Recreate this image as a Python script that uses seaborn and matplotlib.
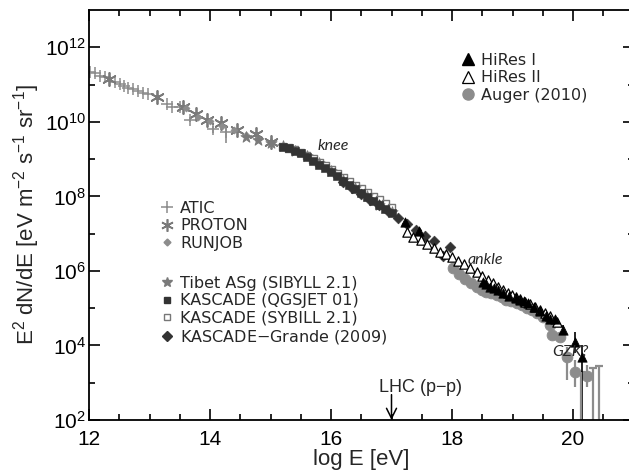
import numpy as np
import pandas as pd
import matplotlib
matplotlib.use('Agg')
import matplotlib.pyplot as plt
import matplotlib.ticker as mticker
from matplotlib.lines import Line2D
import seaborn as sns

# log10(E / eV) and log10(E^2 dN/dE)
atic_logE = [12.02, 12.10, 12.19, 12.27, 12.43, 12.51, 12.58, 12.65, 12.73, 12.81, 12.89, 12.98, 13.29, 13.38, 13.50, 13.67, 14.05, 14.27]
atic_logF = [11.34, 11.30, 11.24, 11.19, 11.07, 11.01, 10.96, 10.92, 10.87, 10.82, 10.78, 10.74, 10.48, 10.41, 10.39, 10.06, 9.80, 9.74]
atic_err_up = [0, 0, 0, 0, 0, 0, 0, 0, 0, 0, 0, 0, 0, 0, 0, 0.06, 0.08, 0.14]
atic_err_dn = [0, 0, 0, 0, 0, 0, 0, 0, 0, 0, 0, 0, 0, 0, 0, 0.06, 0.10, 0.32]

proton_logE = [12.33, 13.12, 13.55, 13.77, 13.95, 14.18, 14.45, 14.76, 15.01]
proton_logF = [11.15, 10.66, 10.40, 10.22, 10.06, 9.98, 9.78, 9.66, 9.45]

runjob_logE = [13.60, 13.80, 14.00, 14.20, 14.40, 14.60, 14.80]
runjob_logF = [10.36, 10.14, 10.03, 9.90, 9.78, 9.64, 9.55]

tibet_logE = [14.6, 14.8, 15.0, 15.2, 15.4, 15.6, 15.8, 16.0, 16.2, 16.4, 16.6, 16.8, 17.0]
tibet_logF = [9.60, 9.52, 9.43, 9.34, 9.22, 9.07, 8.90, 8.68, 8.45, 8.22, 8.00, 7.78, 7.57]

kasq_logE = [15.2, 15.3, 15.4, 15.5, 15.6, 15.7, 15.8, 15.9, 16.0, 16.1, 16.2, 16.3, 16.4, 16.5, 16.6, 16.7, 16.8, 16.9, 17.0]
kasq_logF = [9.33, 9.29, 9.23, 9.15, 9.05, 8.95, 8.85, 8.76, 8.65, 8.54, 8.42, 8.30, 8.19, 8.08, 7.98, 7.87, 7.77, 7.66, 7.55]

kass_logE = [15.2, 15.3, 15.4, 15.5, 15.6, 15.7, 15.8, 15.9, 16.0, 16.1, 16.2, 16.3, 16.4, 16.5, 16.6, 16.7, 16.8, 16.9, 17.0]
kass_logF = [9.34, 9.30, 9.25, 9.18, 9.09, 9.00, 8.91, 8.82, 8.72, 8.62, 8.51, 8.40, 8.30, 8.20, 8.10, 8.00, 7.90, 7.80, 7.70]

grande_logE = [16.20, 16.35, 16.50, 16.65, 16.80, 16.95, 17.10, 17.25, 17.40, 17.55, 17.70, 17.85, 17.97]
grande_logF = [8.38, 8.22, 8.06, 7.91, 7.76, 7.60, 7.43, 7.27, 7.10, 6.93, 6.80, 6.40, 6.64]

hires1_logE = [17.22, 17.45, 18.51, 18.57, 18.63, 18.70, 18.76, 18.85, 18.95, 19.05, 19.12, 19.19, 19.26, 19.35, 19.45, 19.55, 19.62, 19.70, 19.83, 20.03, 20.15]
hires1_logF = [7.32, 7.08, 5.70, 5.64, 5.58, 5.53, 5.48, 5.40, 5.33, 5.26, 5.22, 5.18, 5.13, 5.03, 4.93, 4.80, 4.70, 4.70, 4.42, 4.10, 3.70]
hires1_err_up = [0, 0, 0, 0, 0, 0, 0, 0, 0, 0, 0, 0, 0, 0, 0, 0, 0, 0, 0.12, 0.27, 0.30]
hires1_err_dn = [0, 0, 0, 0, 0, 0, 0, 0, 0, 0, 0, 0, 0, 0, 0, 0, 0, 0, 0.12, 0.30, 1.90]

hires2_logE = [17.25, 17.36, 17.48, 17.59, 17.70, 17.80, 17.90, 18.00, 18.10, 18.20, 18.30, 18.41, 18.50, 18.60, 18.68, 18.76, 18.84, 18.92, 18.99, 19.06, 19.12, 19.20, 19.29, 19.37, 19.45, 19.53, 19.62, 19.74]
hires2_logF = [7.05, 6.90, 6.82, 6.73, 6.62, 6.52, 6.45, 6.36, 6.27, 6.18, 6.08, 5.98, 5.86, 5.76, 5.68, 5.58, 5.50, 5.42, 5.36, 5.30, 5.24, 5.17, 5.10, 5.03, 4.96, 4.87, 4.78, 4.63]

auger_logE = [18.02, 18.12, 18.21, 18.31, 18.41, 18.50, 18.57, 18.65, 18.74, 18.82, 18.90, 18.98, 19.07, 19.15, 19.24, 19.32, 19.40, 19.50, 19.62, 19.65, 19.79, 19.90, 20.03, 20.23]
auger_logF = [6.09, 5.93, 5.79, 5.68, 5.58, 5.50, 5.44, 5.40, 5.36, 5.30, 5.23, 5.19, 5.14, 5.08, 5.01, 4.95, 4.88, 4.76, 4.55, 4.28, 4.23, 3.69, 3.29, 3.18]
auger_err_up = [0, 0, 0, 0, 0, 0, 0, 0, 0, 0, 0, 0, 0, 0, 0, 0, 0, 0, 0, 0, 0, 0.27, 0.32, 0.30]
auger_err_dn = [0, 0, 0, 0, 0, 0, 0, 0, 0, 0, 0, 0, 0, 0, 0, 0, 0, 0, 0, 0, 0, 0.61, 0.40, 0.30]

# bars reaching below the axis (no point drawn)
limit_logE = [20.13, 20.33, 20.43]
limit_logF = [3.29, 3.40, 3.45]

lhc_logE = 17.0

sns.set_style('ticks')
plt.rcParams['font.family'] = ['Liberation Sans', 'DejaVu Sans']
plt.rcParams['mathtext.fontset'] = 'custom'
plt.rcParams['mathtext.rm'] = 'Liberation Sans'
plt.rcParams['mathtext.default'] = 'regular'

fig = plt.figure(figsize=(6.29, 4.73), dpi=100)
ax = fig.add_axes([89 / 629, 1 - 420 / 473, 544.5 / 629, 410 / 473])

def flux(v):
    return np.power(10.0, np.asarray(v, dtype=float))

def errs(logF, up, dn):
    f = flux(logF)
    return [f - f / flux(dn), f * flux(up) - f]

gray = '#8c8c8c'
mid = '#7a7a7a'
dark = '#333333'

# error bars first, behind the markers
ax.errorbar(atic_logE, flux(atic_logF), yerr=errs(atic_logF, atic_err_up, atic_err_dn),
            fmt='none', ecolor=gray, elinewidth=1.2)
ax.errorbar(auger_logE, flux(auger_logF), yerr=errs(auger_logF, auger_err_up, auger_err_dn),
            fmt='none', ecolor=gray, elinewidth=1.6)
ax.errorbar(hires1_logE, flux(hires1_logF), yerr=errs(hires1_logF, hires1_err_up, hires1_err_dn),
            fmt='none', ecolor='black', elinewidth=1.2)
ax.vlines(limit_logE, 50, flux(limit_logF), color=gray, lw=1.6)
sns.scatterplot(x=limit_logE, y=flux(limit_logF), marker='_', s=40, color=gray, linewidth=1.6, ax=ax)

asterisk = (6, 2, 0)
sns.scatterplot(x=atic_logE, y=flux(atic_logF), marker='+', s=70, color=gray, linewidth=1.1, ax=ax)
sns.scatterplot(x=proton_logE, y=flux(proton_logF), marker=asterisk, s=90, color=mid, linewidth=1.3, ax=ax)
sns.scatterplot(x=runjob_logE, y=flux(runjob_logF), marker='D', s=14, color=gray, edgecolor=gray, ax=ax)
sns.scatterplot(x=tibet_logE, y=flux(tibet_logF), marker='*', s=70, color=mid, edgecolor=mid, ax=ax)
sns.scatterplot(x=kass_logE, y=flux(kass_logF), marker='s', s=28, facecolor='none', edgecolor='#777777', linewidth=1.0, ax=ax)
sns.scatterplot(x=kasq_logE, y=flux(kasq_logF), marker='s', s=28, color=dark, edgecolor=dark, ax=ax)
sns.scatterplot(x=grande_logE, y=flux(grande_logF), marker='D', s=30, color=dark, edgecolor=dark, ax=ax)
sns.scatterplot(x=auger_logE, y=flux(auger_logF), marker='o', s=60, color=gray, edgecolor=gray, ax=ax)
sns.scatterplot(x=hires2_logE, y=flux(hires2_logF), marker='^', s=45, facecolor='white', edgecolor='black', linewidth=0.9, ax=ax)
sns.scatterplot(x=hires1_logE, y=flux(hires1_logF), marker='^', s=45, color='black', edgecolor='black', ax=ax)

# annotations
ax.text(15.78, flux(9.34), 'knee', family='Lato', style='italic', fontsize=11.5, va='center', ha='left')
ax.text(18.25, flux(6.30), 'ankle', family='Lato', style='italic', fontsize=11.5, va='center', ha='left')
ax.text(19.65, flux(3.83), 'GZK?', family='Lato', style='italic', fontsize=11.5, va='center', ha='left')
ax.annotate('', xy=(lhc_logE, 1e2), xytext=(lhc_logE, flux(2.68)),
            arrowprops=dict(arrowstyle='->', color='black', lw=1.1, mutation_scale=18,
                            shrinkA=0, shrinkB=0))
ax.text(17.47, flux(2.86), 'LHC (p$-$p)', fontsize=13, ha='center', va='center')

# axes
ax.set_yscale('log')
ax.set_xlim(12, 21)
ax.set_ylim(1e2, 1e13)
ax.xaxis.set_major_locator(mticker.MultipleLocator(2))
ax.xaxis.set_minor_locator(mticker.MultipleLocator(0.5))
ax.yaxis.set_major_locator(mticker.FixedLocator([10.0 ** k for k in range(2, 13, 2)]))
ax.yaxis.set_minor_locator(mticker.FixedLocator([10.0 ** k for k in range(3, 13, 2)]))
ax.yaxis.set_major_formatter(mticker.LogFormatterSciNotation())
ax.yaxis.set_minor_formatter(mticker.NullFormatter())
ax.tick_params(which='both', direction='in', top=True, right=True, width=1.2, colors='black')
ax.tick_params(which='major', length=8, labelsize=15)
ax.tick_params(which='minor', length=4)
ax.tick_params(axis='x', which='major', pad=7)
ax.tick_params(axis='y', which='major', pad=2)
for s in ax.spines.values():
    s.set_linewidth(1.3)
    s.set_color('black')

ax.set_xlabel('log E [eV]', fontsize=16, labelpad=0)
ax.set_ylabel('E$^2$ dN/dE [eV m$^{-2}$ s$^{-1}$ sr$^{-1}$]', fontsize=16, labelpad=2)

# legends
def h(marker, ms, **kw):
    return Line2D([], [], linestyle='none', marker=marker, markersize=ms, **kw)

leg_kw = dict(frameon=False, prop={'family': 'DejaVu Sans', 'size': 11.5}, handlelength=0.8,
              handletextpad=0.4, labelspacing=0.15, borderpad=0, borderaxespad=0)

lg1 = ax.legend([h('+', 8, color=gray, mew=1.1), h(asterisk, 9, color=mid, mew=1.2), h('D', 3.5, color=gray)],
                ['ATIC', 'PROTON', 'RUNJOB'],
                loc='upper left', bbox_to_anchor=((161 - 89) / 544.5, 1 - 191 / 410), **leg_kw)
ax.add_artist(lg1)
lg2 = ax.legend([h('*', 7, color=mid), h('s', 5, color=dark), h('s', 5, mfc='none', mec='#777777'),
                 h('D', 5, color=dark)],
                ['Tibet ASg (SIBYLL 2.1)', 'KASCADE (QGSJET 01)', 'KASCADE (SYBILL 2.1)',
                 'KASCADE$-$Grande (2009)'],
                loc='upper left', bbox_to_anchor=((161 - 89) / 544.5, 1 - 266 / 410), **leg_kw)
ax.add_artist(lg2)
ax.legend([h('^', 8, color='black'), h('^', 8, mfc='none', mec='black', mew=0.9), h('o', 8, color=gray)],
          ['HiRes I', 'HiRes II', 'Auger (2010)'],
          loc='upper left', bbox_to_anchor=((462 - 89) / 544.5, 1 - 43 / 410), **leg_kw)

fig.savefig('out.png', dpi=100)
